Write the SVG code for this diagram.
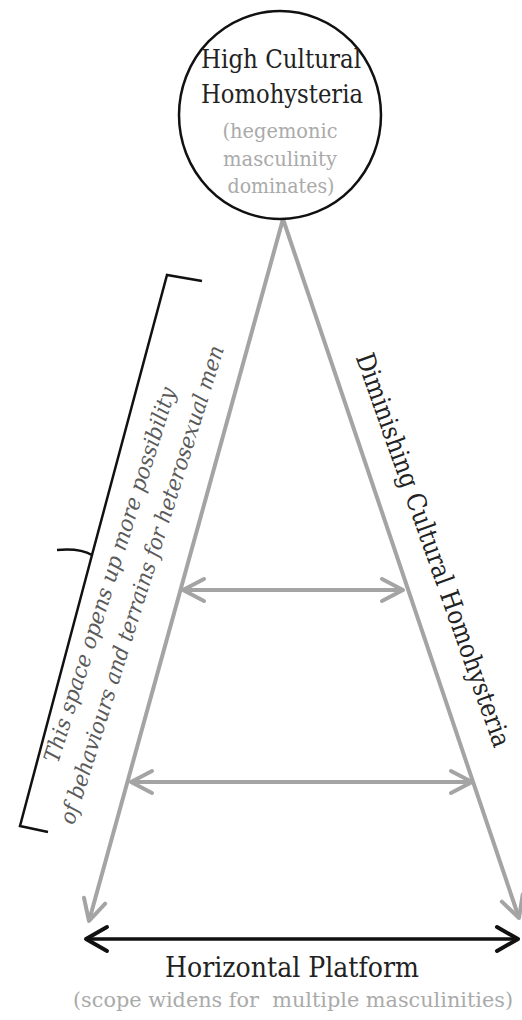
<svg xmlns="http://www.w3.org/2000/svg" width="522" height="1020" viewBox="0 0 522 1020">
<style>
text{font-family:'DejaVu Serif','Liberation Serif','Noto Serif','Times New Roman',serif}
.title{font-size:26px;fill:#222;text-anchor:middle}
.sub{font-size:21px;fill:#aaaaaa;text-anchor:middle}
.side{font-size:22px;fill:#5a5a5a;font-style:italic;text-anchor:middle}
.gray{stroke:#a4a4a4;stroke-width:4;fill:none}
.black{stroke:#111;stroke-width:3.5;fill:none}
</style>
<defs>
<marker id="gh" viewBox="-26 -14 30 28" markerWidth="30" markerHeight="28" refX="0" refY="0" markerUnits="userSpaceOnUse" orient="auto-start-reverse" overflow="visible">
<path d="M-21,-11 L0,0 L-21,11" fill="none" stroke="#a4a4a4" stroke-width="4" stroke-linecap="round" stroke-linejoin="round"/>
</marker>
<marker id="bh" viewBox="-26 -14 30 28" markerWidth="30" markerHeight="28" refX="0" refY="0" markerUnits="userSpaceOnUse" orient="auto-start-reverse" overflow="visible">
<path d="M-21,-12 L0,0 L-21,12" fill="none" stroke="#111" stroke-width="4" stroke-linecap="round" stroke-linejoin="round"/>
</marker>
</defs>
<rect width="522" height="1020" fill="#fff"/>
<g id="connectors">
<line class="gray" x1="283" y1="219" x2="89" y2="921" marker-end="url(#gh)"/>
<line class="gray" x1="283" y1="219" x2="519" y2="918" marker-end="url(#gh)"/>
<line class="gray" x1="183" y1="590" x2="403" y2="590" marker-start="url(#gh)" marker-end="url(#gh)"/>
<line class="gray" x1="131" y1="782" x2="472" y2="782" marker-start="url(#gh)" marker-end="url(#gh)"/>
<line class="black" x1="86" y1="939" x2="518" y2="939" marker-start="url(#bh)" marker-end="url(#bh)"/>
</g>
<g id="top-node">
<ellipse cx="280" cy="115" rx="101" ry="104" fill="#fff" stroke="#111" stroke-width="2.5"/>
<text class="title" x="281" y="68" textLength="160" lengthAdjust="spacingAndGlyphs">High Cultural</text>
<text class="title" x="282" y="103" textLength="162" lengthAdjust="spacingAndGlyphs">Homohysteria</text>
<text class="sub" x="280" y="138" textLength="115" lengthAdjust="spacingAndGlyphs">(hegemonic</text>
<text class="sub" x="280" y="166" textLength="114" lengthAdjust="spacingAndGlyphs">masculinity</text>
<text class="sub" x="281" y="193" textLength="107" lengthAdjust="spacingAndGlyphs">dominates)</text>
</g>
<g id="bracket">
<path d="M202,281 L167,275 L92,555 L20,826 L48,832" fill="none" stroke="#111" stroke-width="2.5" stroke-linejoin="miter"/>
<path d="M92,555 Q80,548 57,550" fill="none" stroke="#111" stroke-width="2.5"/>
</g>
<g id="side-label">
<text class="side" transform="rotate(-72.5 117 577)" x="117" y="577" textLength="392" lengthAdjust="spacingAndGlyphs">This space opens up more possibility</text>
<text class="side" transform="rotate(-72.5 149 587)" x="149" y="587" textLength="500" lengthAdjust="spacingAndGlyphs">of behaviours and terrains for heterosexual men</text>
</g>
<g id="diminishing-label">
<text class="title" transform="rotate(70.5 425 553)" x="425" y="553" fill="#333" textLength="416" lengthAdjust="spacingAndGlyphs">Diminishing Cultural Homohysteria</text>
</g>
<g id="platform-label">
<text class="title" x="292" y="977" style="font-size:27px" textLength="254" lengthAdjust="spacingAndGlyphs">Horizontal Platform</text>
<text class="sub" x="293" y="1007" xml:space="preserve" textLength="440" lengthAdjust="spacingAndGlyphs">(scope widens for  multiple masculinities)</text>
</g>
</svg>
